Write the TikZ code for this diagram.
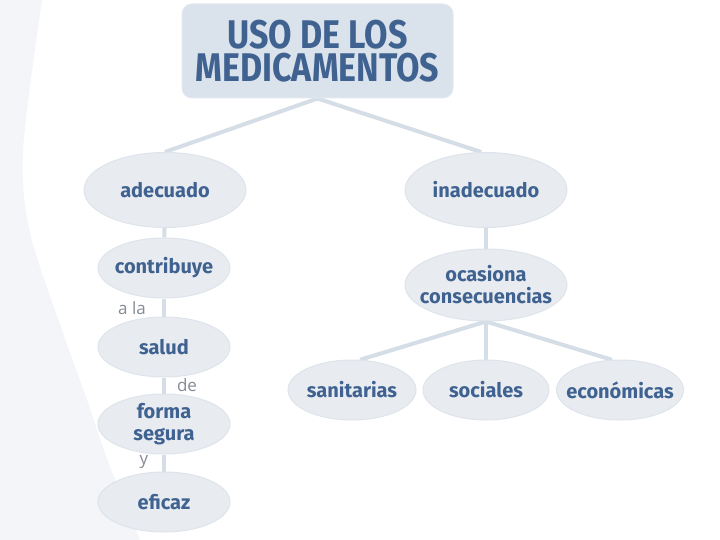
\documentclass[tikz,border=0pt]{standalone}
\usepackage{fontspec}
\setmainfont{Fira Sans}
\newfontfamily\lblfont{Open Sans}
\usetikzlibrary{shapes.geometric,backgrounds}
\definecolor{txt}{HTML}{3F6291}
\definecolor{ell}{HTML}{E8ECF1}
\definecolor{ellb}{HTML}{DEE4EB}
\definecolor{ttl}{HTML}{DAE2EB}
\definecolor{ttlb}{HTML}{E3E9F0}
\definecolor{lnk}{HTML}{D5DDE6}
\definecolor{bgl}{HTML}{F3F5F9}
\definecolor{lbl}{HTML}{858C96}
\begin{document}
\begin{tikzpicture}[x=1pt,y=-1pt,
  bub/.style={ellipse, fill=ell, draw=ellb, line width=1pt, inner xsep=-12pt, inner ysep=-4pt,
    font=\fontsize{20}{22}\selectfont\bfseries, text=txt, align=center},
  small/.style={bub, minimum width=132pt, minimum height=60pt},
  big/.style={bub, minimum width=162pt, minimum height=75pt},
  link/.style={draw=lnk, line width=4pt},
  lab/.style={font=\lblfont\fontsize{17}{17}\selectfont, text=lbl, inner sep=0pt}]
\useasboundingbox (0,0) rectangle (720,540);

\node[fill=ttl, draw=ttlb, line width=1pt, rounded corners=10pt, minimum width=271pt, minimum height=94pt,
  text=txt, align=center, font=\fontsize{40}{33}\selectfont\bfseries] (title) at (317.5,51)
  {\scalebox{0.85}[1]{USO DE LOS}\\\scalebox{0.85}[1]{MEDICAMENTOS}};

\node[big] (ad) at (165,190) {adecuado};
\node[big] (ina) at (486,190) {inadecuado};
\node[small] (con) at (164,268) {contribuye};
\node[small] (sal) at (164,347) {salud};
\node[small] (for) at (164,424) {forma\\segura};
\node[small] (efi) at (164,502) {eficaz};
\node[bub, minimum width=162pt, minimum height=72pt] (oca) at (486,285) {ocasiona\\consecuencias};
\node[small, minimum width=128pt] (san) at (352,390) {sanitarias};
\node[small, minimum width=126pt] (soc) at (486,390) {sociales};
\node[small, minimum width=127pt] (eco) at (620,390) {económicas};

\node[lab] (la) at (132,308) {a la};
\node[lab] (de) at (187,385) {de};
\node[lab] (yy) at (144,462) {y};

\begin{scope}[on background layer]
  \fill[white] (0,0) rectangle (720,540);
  \fill[bgl] (0,0) -- plot[smooth] coordinates {(42,0) (23,150) (30,233) (63,333) (87,400) (110,467) (140,540)} -- (0,540) -- cycle;
  \draw[link] (title.south) -- (ad.north);
  \draw[link] (title.south) -- (ina.97);
  \draw[link] (ad) -- (con);
  \draw[link] (con) -- (sal);
  \draw[link] (sal) -- (for);
  \draw[link] (for) -- (efi);
  \draw[link] (ina) -- (oca);
  \draw[link] (oca.south) -- (san.75);
  \draw[link] (oca) -- (soc);
  \draw[link] (oca.south) -- (eco.105);
\end{scope}
\end{tikzpicture}
\end{document}
